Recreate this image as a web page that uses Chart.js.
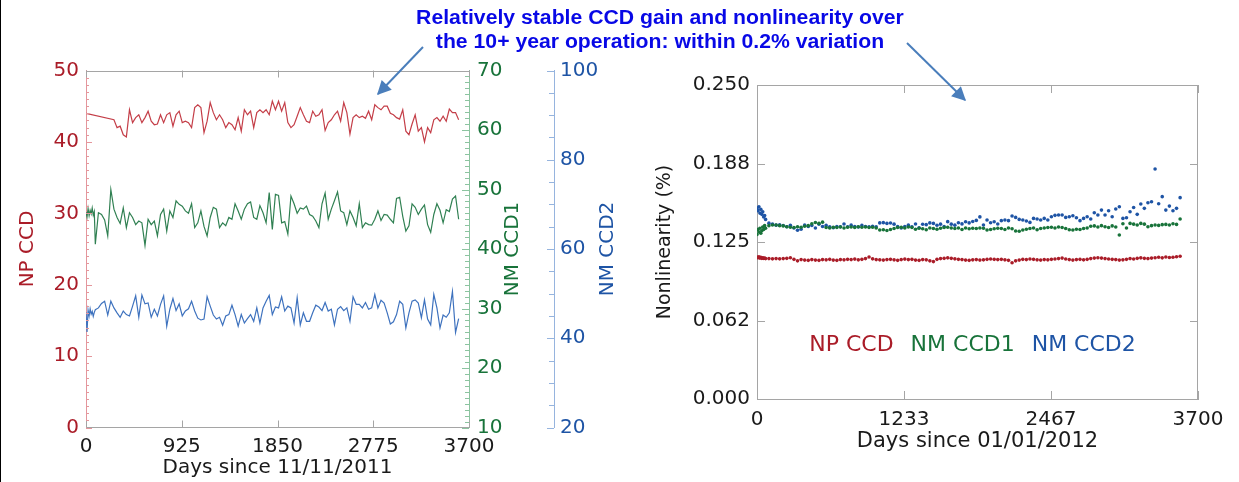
<!DOCTYPE html>
<html>
<head>
<meta charset="utf-8">
<script src="https://cdn.jsdelivr.net/npm/chart.js@4.4.0/dist/chart.umd.min.js"></script>
<style>
  html, body { margin: 0; padding: 0; background: #fff; }
  body { width: 1239px; height: 482px; position: relative; overflow: hidden; }
  #edge { position: absolute; left: 0; top: 0; width: 1px; height: 482px; background: #000; }
  #gainChart { position: absolute; left: 0; top: 0; }
  #nlChart { position: absolute; left: 630px; top: 0; }
  #headline {
    position: absolute; left: 360px; top: 5px; width: 600px;
    text-align: center; font: bold 20px/24.3px "Liberation Sans", Arial, sans-serif;
    color: rgb(8, 8, 230); transform: scaleX(1.06); transform-origin: center;
  }
  #arrows { position: absolute; left: 0; top: 0; pointer-events: none; }
</style>
</head>
<body>
<div id="edge"></div>
<canvas id="gainChart" width="625" height="482"></canvas>
<canvas id="nlChart" width="609" height="482"></canvas>
<div id="headline">Relatively stable CCD gain and nonlinearity over<br>the 10+ year operation: within 0.2% variation</div>
<svg id="arrows" width="1239" height="482">
  <defs>
    <marker id="head" viewBox="0 0 10 10" refX="9" refY="5" markerWidth="8" markerHeight="7" orient="auto">
      <path d="M0,0 L10,5 L0,10 z" fill="rgb(74,126,187)"/>
    </marker>
  </defs>
  <line x1="423" y1="47" x2="378" y2="94" stroke="rgb(74,126,187)" stroke-width="2" marker-end="url(#head)"/>
  <line x1="907" y1="43" x2="965" y2="100" stroke="rgb(74,126,187)" stroke-width="2" marker-end="url(#head)"/>
</svg>
<script>
// gain trend: days since 11/11/2011 (dense commissioning samples, then ~monthly)
const gainDays = [0, 10, 20, 30, 40, 50, 60, 70, 80, 90,
  120, 150, 180, 210, 240, 270, 300, 330, 360, 390, 420, 450, 480, 510, 540, 570, 600, 630, 660, 690,
  720, 750, 780, 810, 840, 870, 900, 930, 960, 990, 1020, 1050, 1080, 1110, 1140, 1170, 1200, 1230, 1260, 1290,
  1320, 1350, 1380, 1410, 1440, 1470, 1500, 1530, 1560, 1590, 1620, 1650, 1680, 1710, 1740, 1770, 1800, 1830, 1860, 1890,
  1920, 1950, 1980, 2010, 2040, 2070, 2100, 2130, 2160, 2190, 2220, 2250, 2280, 2310, 2340, 2370, 2400, 2430, 2460, 2490,
  2520, 2550, 2580, 2610, 2640, 2670, 2700, 2730, 2760, 2790, 2820, 2850, 2880, 2910, 2940, 2970, 3000, 3030, 3060, 3090,
  3120, 3150, 3180, 3210, 3240, 3270, 3300, 3330, 3360, 3390, 3420, 3450, 3480, 3510, 3540, 3570, 3600];

const npGain = [44.0, null, null, null, null, null, null, null, null, null,
  null, null, null, null, null,
  43.1, 42.0, 42.2, 41.0, 40.7, 44.5, 42.7, 43.4, 43.8, 42.7, 43.4, 44.3, 42.9, 42.4, 42.5,
  43.8, 42.7, 43.8, 44.1, 42.2, 43.8, 44.3, 42.7, 42.9,
  42.7, 42.0, 44.8, 45.2, 44.8, 41.3, 42.9, 45.5, 44.1, 43.1, 43.8, 43.1, 42.0, 42.7, 42.4,
  41.7, 43.4, 41.5, 44.5, 43.8, 44.3, 42.0, 44.1, 44.5, 44.1, 44.5, 43.8, 45.7, 44.5,
  45.7, 44.3, 45.5, 42.7, 42.0, 42.4, 43.6, 44.8, 43.8, 42.9, 42.7, 44.3, 43.6, 43.8, 44.5, 41.6,
  42.7, 43.1, 43.8, 44.3, 42.9, 45.5, 44.1, 41.1, 43.4, 43.8, 43.4, 43.6, 43.3, 44.3, 43.1, 45.2,
  44.8, 44.5, 45.0, 45.0, 44.0, 43.8, 43.4, 43.2, 44.5, 41.5, 41.0, 42.5, 43.8, 41.5, 42.0, 40.0,
  42.0, 41.3, 43.1, 43.4, 42.9, 43.6, 42.9, 44.6, 44.1, 44.1, 43.1];

const nmCcd1Gain = [46.2, 45.4, 46.8, 45.6, 46.5, 45.9, 46.9, 45.7, 46.3, 40.8,
  46.1, 45.8, 44.9, 42.2, 50.0, 46.7, 45.3, 44.3, 46.9, 43.6, 46.1, 45.3, 44.1, 44.7, 44.4, 40.6,
  45.0, 44.1, 44.7, 42.2, 45.8, 46.7, 43.0, 46.4, 45.3, 48.1, 47.5, 47.2,
  46.4, 46.0, 47.6, 43.6, 44.4, 46.4, 43.8, 42.2, 45.3, 47.0, 46.7, 43.6, 44.4, 43.9, 45.3,
  45.0, 47.6, 46.4, 45.0, 46.7, 47.6, 47.9, 45.3, 45.0, 47.3, 46.1, 44.4, 49.5, 43.3, 49.2,
  49.0, 44.4, 44.6, 42.5, 48.9, 47.6, 46.0, 46.9, 46.7, 47.2, 45.8, 45.5, 44.7, 43.6, 47.6, 49.4,
  45.0, 46.7, 48.1, 49.6, 46.4, 46.1, 44.1, 46.4, 45.3, 43.9, 47.6, 43.6, 44.4, 44.1, 44.0, 45.0,
  46.4, 44.8, 45.8, 45.7, 45.0, 44.4, 48.5, 48.7, 45.5, 43.0, 43.9, 47.6, 47.0, 45.8, 46.7, 47.4,
  44.1, 42.8, 45.8, 47.6, 46.5, 44.4, 46.6, 46.3, 48.4, 48.9, 45.0];

const nmCcd2Gain = [45.8, 41.4, 46.3, 45.0, 46.6, 45.4, 46.0, 44.9, 45.8, 46.4,
  46.8, 47.8, 48.3, 45.2, 48.3, 46.8, 45.7, 44.7, 46.1, 45.3, 45.0, 47.2, 49.5, 44.7, 49.7, 47.7,
  47.9, 44.7, 46.5, 45.0, 47.6, 49.5, 42.7, 46.5, 48.9, 46.2, 47.7, 45.0,
  46.1, 46.6, 48.3, 46.1, 44.5, 44.1, 44.3, 49.3, 47.2, 45.2, 44.3, 44.7, 42.9, 45.0, 45.3,
  47.4, 45.3, 42.7, 45.3, 43.4, 44.4, 45.3, 43.8, 46.8, 43.4, 46.8, 48.3, 49.6, 45.3, 47.0,
  46.8, 49.3, 46.1, 47.2, 46.8, 43.4, 49.1, 43.0, 45.7, 43.8, 43.8, 45.7, 47.4, 47.0, 46.2, 48.0,
  46.1, 46.5, 43.0, 46.5, 47.1, 46.2, 46.8, 43.8, 49.3, 47.6, 47.6, 46.8, 48.0, 46.5, 46.8, 49.8,
  46.8, 48.5, 47.9, 45.7, 43.2, 43.7, 45.3, 48.3, 47.6, 42.3, 45.7, 48.3, 48.6, 47.9, 44.6, 48.6,
  44.3, 43.0, 49.8, 46.8, 42.3, 45.2, 44.7, 45.7, 50.5, 41.3, 44.4];

// nonlinearity: days since 01/01/2012
const nlDays = [0, 8, 16, 24, 32, 40, 48, 56, 64, 72,
  100, 130, 160, 190, 220, 250, 280, 310, 340, 370, 400, 430, 460, 490, 520, 550, 580, 610, 640, 670,
  700, 730, 760, 790, 820, 850, 880, 910, 940, 970, 1000, 1030, 1060, 1090, 1120, 1150, 1180, 1210, 1240, 1270,
  1300, 1330, 1360, 1390, 1420, 1450, 1480, 1510, 1540, 1570, 1600, 1630, 1660, 1690, 1720, 1750, 1780, 1810, 1840, 1870,
  1900, 1930, 1960, 1990, 2020, 2050, 2080, 2110, 2140, 2170, 2200, 2230, 2260, 2290, 2320, 2350, 2380, 2410, 2440, 2470,
  2500, 2530, 2560, 2590, 2620, 2650, 2680, 2710, 2740, 2770, 2800, 2830, 2860, 2890, 2920, 2950, 2980, 3010, 3040, 3070,
  3100, 3130, 3160, 3190, 3220, 3250, 3280, 3310, 3340, 3370, 3400, 3430, 3460, 3490, 3520, 3550];

const npNonlin = [0.1130, 0.1125, 0.1132, 0.1122, 0.1128, 0.1120, 0.1124, 0.1120, 0.1122, 0.1118,
  0.1118, 0.1116, 0.1118, 0.1116, 0.1118, 0.1120, 0.1125, 0.1112, 0.1100, 0.1110,
  0.1106, 0.1104, 0.1110, 0.1106, 0.1104, 0.1110, 0.1108, 0.1112, 0.1106, 0.1104,
  0.1110, 0.1108, 0.1112, 0.1110, 0.1114, 0.1108, 0.1112, 0.1118, 0.1130, 0.1116,
  0.1110, 0.1108, 0.1106, 0.1110, 0.1112, 0.1108, 0.1104, 0.1110, 0.1114, 0.1110,
  0.1112, 0.1106, 0.1104, 0.1110, 0.1108, 0.1100, 0.1094, 0.1112, 0.1118, 0.1120,
  0.1124, 0.1120, 0.1116, 0.1112, 0.1110, 0.1106, 0.1104, 0.1108, 0.1110, 0.1106,
  0.1108, 0.1112, 0.1115, 0.1112, 0.1110, 0.1112, 0.1108, 0.1104, 0.1085, 0.1100,
  0.1106, 0.1112, 0.1110, 0.1115, 0.1112, 0.1108, 0.1106, 0.1110, 0.1108, 0.1112,
  0.1115, 0.1118, 0.1122, 0.1115, 0.1110, 0.1106, 0.1110, 0.1112, 0.1108, 0.1112,
  0.1118, 0.1122, 0.1125, 0.1122, 0.1118, 0.1115, 0.1112, 0.1110, 0.1106, 0.1108,
  0.1112, 0.1118, 0.1115, 0.1120, 0.1124, 0.1120, 0.1118, 0.1122, 0.1125, 0.1128,
  0.1124, 0.1130, 0.1126, 0.1128, 0.1132, 0.1136];

const nm1Nonlin = [0.1310, 0.1350, 0.1330, 0.1360, 0.1320, 0.1340, 0.1370, 0.1350, 0.1380, 0.1360,
  0.1380, 0.1385, 0.1385, 0.1380, 0.1378, 0.1372, 0.1368, 0.1365, 0.1372, 0.1368,
  0.1375, 0.1380, 0.1395, 0.1405, 0.1398, 0.1408, 0.1365, 0.1362, 0.1368, 0.1365,
  0.1370, 0.1362, 0.1368, 0.1370, 0.1365, 0.1372, 0.1368, 0.1370, 0.1365, 0.1368,
  0.1362, 0.1345, 0.1348, 0.1342, 0.1350, 0.1358, 0.1365, 0.1368, 0.1362, 0.1370,
  0.1365, 0.1352, 0.1360, 0.1355, 0.1348, 0.1362, 0.1358, 0.1352, 0.1360, 0.1365,
  0.1368, 0.1362, 0.1358, 0.1362, 0.1350, 0.1362, 0.1355, 0.1360, 0.1358, 0.1362,
  0.1360, 0.1345, 0.1350, 0.1355, 0.1360, 0.1358, 0.1350, 0.1362, 0.1355, 0.1338,
  0.1335, 0.1345, 0.1352, 0.1358, 0.1362, 0.1348, 0.1358, 0.1362, 0.1365, 0.1368,
  0.1362, 0.1370, 0.1365, 0.1358, 0.1348, 0.1345, 0.1352, 0.1350, 0.1358, 0.1362,
  0.1375, 0.1378, 0.1370, 0.1380, 0.1372, 0.1365, 0.1378, 0.1370, 0.1306, 0.1395,
  0.1362, 0.1398, 0.1392, 0.1385, 0.1398, 0.1392, 0.1372, 0.1380, 0.1385, 0.1382,
  0.1388, 0.1390, 0.1385, 0.1395, 0.1390, 0.1433];

const nm2Nonlin = [0.1520, 0.1500, 0.1530, 0.1480, 0.1510, 0.1470, 0.1490, 0.1450, 0.1460, 0.1430,
  0.1400, 0.1392, 0.1384, 0.1386, 0.1381, 0.1372, 0.1383, 0.1362, 0.1344, 0.1352,
  0.1384, 0.1373, 0.1381, 0.1362, 0.1391, 0.1374, 0.1382, 0.1371, 0.1363, 0.1374,
  0.1372, 0.1393, 0.1371, 0.1384, 0.1373, 0.1370, 0.1382, 0.1374, 0.1372, 0.1375,
  0.1371, 0.1402, 0.1404, 0.1398, 0.1401, 0.1392, 0.1374, 0.1362, 0.1373, 0.1384,
  0.1372, 0.1393, 0.1364, 0.1391, 0.1388, 0.1402, 0.1398, 0.1383, 0.1392, 0.1374,
  0.1412, 0.1392, 0.1384, 0.1403, 0.1394, 0.1411, 0.1402, 0.1413, 0.1422, 0.1450,
  0.1385, 0.1425, 0.1403, 0.1411, 0.1393, 0.1420, 0.1425, 0.1420, 0.1457, 0.1446,
  0.1430, 0.1425, 0.1417, 0.1406, 0.1438, 0.1433, 0.1425, 0.1438, 0.1425, 0.1451,
  0.1462, 0.1465, 0.1465, 0.1446, 0.1451, 0.1459, 0.1443, 0.1420, 0.1438, 0.1451,
  0.1433, 0.1483, 0.1465, 0.1504, 0.1465, 0.1499, 0.1451, 0.1513, 0.1531, 0.1438,
  0.1443, 0.1491, 0.1525, 0.1470, 0.1552, 0.1518, 0.1563, 0.1571, 0.1831, 0.1555,
  0.1611, 0.1504, 0.1536, 0.1499, 0.1518, 0.1603];

const nlTickLabels = ['0.000', '0.062', '0.125', '0.188', '0.250'];
const nlLegend = ['NP CCD', 'NM CCD1', 'NM CCD2'];

const RED = 'rgb(170,28,40)', GREEN = 'rgb(24,115,58)', BLUE = 'rgb(30,84,165)';
const FRAME = 'rgb(165,165,165)';

Chart.defaults.font.family = '"DejaVu Sans", sans-serif';
Chart.defaults.font.size = 20;
Chart.defaults.color = '#1a1a1a';

function toPoints(xs, ys) {
  return xs.map((x, i) => ({x, y: ys[i]})).filter(p => p.y !== null);
}

function fixSize(prop, size) {
  return scale => { scale[prop] = size; };
}

const plainInt = v => String(Math.round(v));

// inward tick marks (major + minor) and the closing edges of the plot box
const tickMarks = {
  id: 'tickMarks',
  afterDraw(chart, args, opts) {
    const {ctx, chartArea: area} = chart;
    ctx.save();
    ctx.lineWidth = 1;
    for (const m of opts.marks || []) {
      const scale = chart.scales[m.scale];
      const items = [];
      if (m.minor) {
        const n = Math.round((scale.max - scale.min) / m.minor);
        for (let i = 0; i <= n; i++) items.push([scale.min + i * m.minor, m.minorLen]);
      }
      scale.ticks.forEach(t => items.push([t.value, m.len]));
      ctx.strokeStyle = m.color;
      ctx.beginPath();
      for (const [v, len] of items) {
        const p = Math.round(scale.getPixelForValue(v)) + 0.5;
        if (scale.isHorizontal()) {
          const y0 = m.edge === 'top' ? area.top : area.bottom;
          ctx.moveTo(p, y0);
          ctx.lineTo(p, y0 + m.dir * len);
        } else {
          const x0 = m.edge === 'left' ? area.left : m.edge === 'right' ? area.right : scale.left;
          ctx.moveTo(x0, p);
          ctx.lineTo(x0 + m.dir * len, p);
        }
      }
      ctx.stroke();
    }
    ctx.strokeStyle = opts.frameColor || FRAME;
    ctx.beginPath();
    for (const side of opts.frame || []) {
      if (side === 'top') {
        ctx.moveTo(area.left, Math.round(area.top) + 0.5);
        ctx.lineTo(area.right, Math.round(area.top) + 0.5);
      } else if (side === 'right') {
        ctx.moveTo(Math.round(area.right) - 0.5, area.top);
        ctx.lineTo(Math.round(area.right) - 0.5, area.bottom);
      }
    }
    ctx.stroke();
    ctx.restore();
  }
};

// rotated titles for the right-hand axes, reading bottom to top
const sideTitles = {
  id: 'sideTitles',
  afterDraw(chart, args, opts) {
    const ctx = chart.ctx;
    for (const t of opts.items || []) {
      const s = chart.scales[t.scale];
      ctx.save();
      ctx.translate(s.right - t.offset, (s.top + s.bottom) / 2);
      ctx.rotate(-Math.PI / 2);
      ctx.textAlign = 'center';
      ctx.textBaseline = 'middle';
      ctx.font = '20px "DejaVu Sans", sans-serif';
      ctx.fillStyle = t.color;
      ctx.fillText(t.text, 0, 0);
      ctx.restore();
    }
  }
};

// coloured series names written inside the plot
const inlineLegend = {
  id: 'inlineLegend',
  afterDraw(chart, args, opts) {
    if (!opts.labels) return;
    const {ctx, chartArea: area} = chart;
    ctx.save();
    ctx.font = '22px "DejaVu Sans", sans-serif';
    ctx.textBaseline = 'middle';
    ctx.textAlign = 'left';
    const widths = opts.labels.map(l => ctx.measureText(l).width);
    const total = widths.reduce((a, b) => a + b, 0) + opts.gap * (widths.length - 1);
    let x = (area.left + area.right) / 2 - total / 2 + opts.shift;
    const y = chart.scales.y.getPixelForValue(opts.atValue);
    opts.labels.forEach((l, i) => {
      ctx.fillStyle = opts.colors[i];
      ctx.fillText(l, x, y);
      x += widths[i] + opts.gap;
    });
    ctx.restore();
  }
};

new Chart(document.getElementById('gainChart'), {
  type: 'line',
  data: {
    datasets: [
      {label: 'NP CCD', data: toPoints(gainDays, npGain), yAxisID: 'y',
       borderColor: 'rgb(196,62,72)', borderWidth: 1.2},
      {label: 'NM CCD1', data: toPoints(gainDays, nmCcd1Gain), yAxisID: 'y1',
       borderColor: 'rgb(48,128,82)', borderWidth: 1.2},
      {label: 'NM CCD2', data: toPoints(gainDays, nmCcd2Gain), yAxisID: 'y2',
       borderColor: 'rgb(62,114,190)', borderWidth: 1.2}
    ]
  },
  options: {
    responsive: false,
    animation: false,
    events: [],
    elements: {point: {radius: 0}, line: {tension: 0}},
    layout: {padding: {top: 70.5, left: 0, right: 0, bottom: 0}},
    plugins: {
      legend: {display: false},
      tooltip: {enabled: false},
      tickMarks: {
        frame: ['top'],
        marks: [
          {scale: 'x', edge: 'bottom', dir: -1, len: 7, color: FRAME},
          {scale: 'x', edge: 'top', dir: 1, len: 7, color: FRAME},
          {scale: 'y', edge: 'left', dir: 1, len: 6, minor: 1, minorLen: 3, color: 'rgb(228,150,156)'},
          {scale: 'y1', edge: 'right', dir: -1, len: 7, minor: 1, minorLen: 4, color: 'rgb(140,196,160)'},
          {scale: 'y2', edge: 'scale', dir: -1, len: 7, minor: 5, minorLen: 5, color: 'rgb(150,180,222)'}
        ]
      },
      sideTitles: {
        items: [
          {scale: 'y1', text: 'NM CCD1', offset: 41, color: GREEN},
          {scale: 'y2', text: 'NM CCD2', offset: 17, color: BLUE}
        ]
      }
    },
    scales: {
      x: {
        type: 'linear', min: 0, max: 3700,
        afterFit: fixSize('height', 54.5),
        grid: {display: false, drawTicks: false},
        border: {color: FRAME},
        ticks: {stepSize: 925, padding: 7.5, color: '#1a1a1a', callback: plainInt},
        title: {display: true, text: 'Days since 11/11/2011', color: '#1a1a1a', padding: {top: 0, bottom: 2}}
      },
      y: {
        position: 'left', min: 0, max: 50,
        afterFit: fixSize('width', 86),
        grid: {display: false, drawTicks: false},
        border: {color: 'rgb(228,150,156)'},
        ticks: {stepSize: 10, padding: 7, color: RED},
        title: {display: true, text: 'NP CCD', color: RED, padding: {top: 16, bottom: 0}}
      },
      y1: {
        position: 'right', weight: 1, min: 10, max: 70,
        afterFit: fixSize('width', 85),
        grid: {display: false, drawTicks: false},
        border: {color: 'rgb(140,196,160)'},
        ticks: {stepSize: 10, padding: 8, color: GREEN}
      },
      y2: {
        position: 'right', weight: 2, min: 20, max: 100,
        afterFit: fixSize('width', 71),
        grid: {display: false, drawTicks: false},
        border: {color: 'rgb(150,180,222)'},
        ticks: {stepSize: 20, padding: 6, color: BLUE}
      }
    }
  },
  plugins: [tickMarks, sideTitles]
});

new Chart(document.getElementById('nlChart'), {
  type: 'scatter',
  data: {
    datasets: [
      {label: nlLegend[0], data: toPoints(nlDays, npNonlin), backgroundColor: RED},
      {label: nlLegend[1], data: toPoints(nlDays, nm1Nonlin), backgroundColor: GREEN},
      {label: nlLegend[2], data: toPoints(nlDays, nm2Nonlin), backgroundColor: BLUE}
    ]
  },
  options: {
    responsive: false,
    animation: false,
    events: [],
    elements: {point: {radius: 1.8, borderWidth: 0}},
    layout: {padding: {top: 85, left: 0, right: 41, bottom: 0}},
    plugins: {
      legend: {display: false},
      tooltip: {enabled: false},
      tickMarks: {
        frame: ['top', 'right'],
        marks: [
          {scale: 'x', edge: 'bottom', dir: -1, len: 8, color: FRAME},
          {scale: 'x', edge: 'top', dir: 1, len: 8, color: FRAME},
          {scale: 'y', edge: 'left', dir: 1, len: 8, color: FRAME},
          {scale: 'y', edge: 'right', dir: -1, len: 8, color: FRAME}
        ]
      },
      inlineLegend: {labels: nlLegend, colors: [RED, GREEN, BLUE], gap: 17, shift: -5, atValue: 0.043}
    },
    scales: {
      x: {
        type: 'linear', min: 0, max: 3700,
        afterFit: fixSize('height', 83),
        grid: {display: false, drawTicks: false},
        border: {color: FRAME},
        ticks: {stepSize: 3700 / 3, padding: 8.4, color: '#1a1a1a', callback: plainInt},
        title: {display: true, text: 'Days since 01/01/2012', color: '#1a1a1a',
                font: {size: 21}, padding: {top: 0, bottom: 27.7}}
      },
      y: {
        min: 0, max: 0.25,
        afterFit: fixSize('width', 127),
        grid: {display: false, drawTicks: false},
        border: {color: FRAME},
        ticks: {stepSize: 0.0625, padding: 7, color: '#1a1a1a',
                callback: (v, i) => nlTickLabels[i]},
        title: {display: true, text: 'Nonlinearity (%)', color: '#1a1a1a',
                font: {size: 19}, padding: {top: 23.6, bottom: 0}}
      }
    }
  },
  plugins: [tickMarks, inlineLegend]
});
</script>
</body>
</html>
